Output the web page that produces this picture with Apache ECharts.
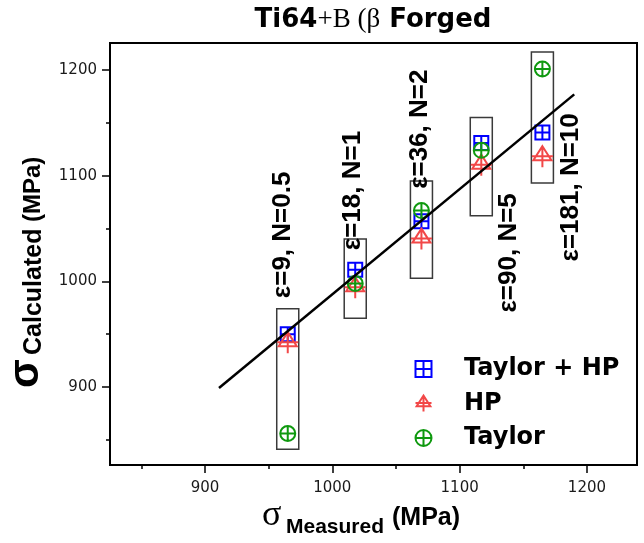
<!DOCTYPE html>
<html>
<head>
<meta charset="utf-8">
<script src="https://cdn.jsdelivr.net/npm/echarts@6/dist/echarts.min.js"></script>
<style>
  html, body { margin: 0; padding: 0; background: #fff; }
  #chart { width: 644px; height: 543px; }
</style>
</head>
<body>
<div id="chart"></div>
<script>
// Measured yield strength of each forging condition (MPa)
const measured = [965, 1018, 1070, 1117, 1165];
// Calculated strength from each model (MPa)
const taylorHP = [950, 1011, 1057, 1131, 1141];
const hallPetch = [942, 994, 1040, 1110, 1118];
const taylor = [856, 998, 1067, 1124, 1201];
// Bracket around each condition: lower / upper calculated bound (MPa)
const boxLow = [841, 965, 1003, 1062, 1093];
const boxHigh = [974, 1040, 1095, 1155, 1217];
// Condition notes (strain, number of passes), anchored in data units
const conditionNotes = ['ε=9, N=0.5', 'ε=18, N=1', 'ε=36, N=2', 'ε=90, N=5', 'ε=181, N=10'];
const noteMeasured = [961, 1016, 1069, 1139, 1187];
const noteCalculated = [1044, 1086, 1144, 1027, 1089];
// Trend line end points
const trendMeasured = [911, 1190];
const trendCalculated = [899, 1177];
// Axis ticks
const majorTicks = [900, 1000, 1100, 1200];
const minorTicks = [850, 950, 1050, 1150];

const BOX_HALF = 8.65;
const SANS = 'Liberation Sans';
const WIDE = 'DejaVu Sans';
const SERIF = 'Liberation Serif';

const SYM_SQUARE = 'path://M0,0L10,0L10,10L0,10Z M5,0L5,10 M0,5L10,5';
const SYM_TRI = 'path://M10.5,0L19.5,14L1.5,14Z M0,10L21,10 M10.5,0L10.5,21';
const SYM_CIRCLE = 'path://M0,5A5,5,0,1,1,10,5A5,5,0,1,1,0,5Z M5,0L5,10 M0,5L10,5';

const BLUE = '#0000ff';
const RED = '#f24848';
const GREEN = '#0f990f';

const pairs = (xs, ys) => xs.map((x, i) => [x, ys[i]]);
const plain = (v) => String(v);

function axisCommon(min, max) {
  return {
    type: 'value', min: min, max: max,
    splitLine: { show: false }
  };
}

function titleText(x, y, text, font, rotation) {
  return {
    type: 'text', x: x, y: y, rotation: rotation || 0, silent: true,
    style: {
      text: text, font: font, fill: '#000',
      align: 'left', verticalAlign: 'middle',
      textAlign: 'left', textVerticalAlign: 'middle'
    }
  };
}

const chart = echarts.init(document.getElementById('chart'), null, { renderer: 'canvas' });

chart.setOption({
  animation: false,
  backgroundColor: '#fff',
  grid: {
    left: 110, right: 7, top: 43, bottom: 78,
    show: true, borderColor: '#000', borderWidth: 2
  },
  xAxis: [
    Object.assign(axisCommon(825.4, 1239.3), {
      position: 'bottom',
      axisLine: { lineStyle: { color: '#000', width: 2 } },
      axisTick: { customValues: majorTicks, length: 8, lineStyle: { color: '#000', width: 1.5 } },
      axisLabel: { customValues: majorTicks, formatter: plain, margin: 16, fontFamily: WIDE, fontSize: 15, color: '#1a1a1a' }
    }),
    Object.assign(axisCommon(825.4, 1239.3), {
      position: 'bottom',
      axisLine: { show: false },
      axisTick: { customValues: minorTicks, length: 4, lineStyle: { color: '#000', width: 1.5 } },
      axisLabel: { show: false }
    })
  ],
  yAxis: [
    Object.assign(axisCommon(826.2, 1225.6), {
      position: 'left',
      axisLine: { show: true, lineStyle: { color: '#000', width: 2 } },
      axisTick: { show: true, customValues: majorTicks, length: 8, lineStyle: { color: '#000', width: 1.5 } },
      axisLabel: { customValues: majorTicks, formatter: plain, margin: 13, fontFamily: WIDE, fontSize: 15, color: '#1a1a1a' }
    }),
    Object.assign(axisCommon(826.2, 1225.6), {
      position: 'left',
      axisLine: { show: false },
      axisTick: { show: true, customValues: minorTicks, length: 4, lineStyle: { color: '#000', width: 1.5 } },
      axisLabel: { show: false }
    })
  ],
  legend: {
    orient: 'vertical',
    left: 413, top: 357,
    padding: 0,
    itemWidth: 17, itemHeight: 16, itemGap: 10.5,
    data: ['Taylor + HP', 'HP', 'Taylor'],
    textStyle: { fontFamily: WIDE, fontWeight: 'bold', fontSize: 24, color: '#000', padding: [0, 0, 0, 27] }
  },
  graphic: [
    {
      type: 'text', x: 373, y: 20, silent: true,
      style: {
        text: '{a|Ti64}{b|+B (β}{a| Forged}',
        textAlign: 'center', align: 'center',
        textVerticalAlign: 'middle', verticalAlign: 'middle',
        rich: {
          a: { fontFamily: WIDE, fontWeight: 'bold', fontSize: 26, fill: '#000', color: '#000' },
          b: { fontFamily: SERIF, fontSize: 27, fill: '#000', color: '#000' }
        }
      }
    },
    // y axis title, reading upward
    titleText(26, 388, 'σ', 'bold 42px "Liberation Sans"', Math.PI / 2),
    titleText(34, 355, 'Calculated', 'bold 25px "Liberation Sans"', Math.PI / 2),
    titleText(33, 222, '(MPa)', 'bold 24px "Liberation Sans"', Math.PI / 2),
    // x axis title
    titleText(262, 516, 'σ', '36px "Liberation Serif"'),
    titleText(286, 527, 'Measured', 'bold 21px "Liberation Sans"'),
    titleText(392, 518, '(MPa)', 'bold 25px "Liberation Sans"')
  ],
  series: [
    {
      name: 'brackets',
      type: 'custom',
      silent: true,
      z: 1,
      data: measured.map((x, i) => [x, boxLow[i], boxHigh[i]]),
      encode: { x: 0, y: [1, 2] },
      renderItem: function (params, api) {
        const p0 = api.coord([api.value(0) - BOX_HALF, api.value(2)]);
        const p1 = api.coord([api.value(0) + BOX_HALF, api.value(1)]);
        return {
          type: 'rect',
          shape: { x: p0[0], y: p0[1], width: p1[0] - p0[0], height: p1[1] - p0[1] },
          style: { fill: 'none', stroke: '#3a3a3a', lineWidth: 1.5 }
        };
      }
    },
    {
      name: 'Taylor + HP',
      type: 'scatter',
      z: 3,
      symbol: SYM_SQUARE,
      symbolSize: 14,
      itemStyle: { color: 'none', borderColor: BLUE, borderWidth: 2, opacity: 1 },
      data: pairs(measured, taylorHP)
    },
    {
      name: 'HP',
      type: 'scatter',
      z: 3,
      symbol: SYM_TRI,
      symbolSize: 21,
      itemStyle: { color: 'none', borderColor: RED, borderWidth: 2, opacity: 1 },
      data: pairs(measured, hallPetch)
    },
    {
      name: 'Taylor',
      type: 'scatter',
      z: 3,
      symbol: SYM_CIRCLE,
      symbolSize: 15,
      itemStyle: { color: 'none', borderColor: GREEN, borderWidth: 2, opacity: 1 },
      data: pairs(measured, taylor)
    },
    {
      name: 'trend',
      type: 'line',
      z: 5,
      silent: true,
      symbol: 'none',
      lineStyle: { color: '#000', width: 2.5 },
      data: pairs(trendMeasured, trendCalculated)
    },
    {
      name: 'notes',
      type: 'scatter',
      z: 6,
      silent: true,
      symbolSize: 1,
      itemStyle: { color: 'transparent', opacity: 1 },
      data: pairs(noteMeasured, noteCalculated),
      label: {
        show: true,
        position: 'inside',
        rotate: 90,
        align: 'center',
        verticalAlign: 'middle',
        fontFamily: SANS,
        fontWeight: 'bold',
        fontSize: 26,
        color: '#000',
        opacity: 1,
        formatter: (p) => conditionNotes[p.dataIndex]
      }
    }
  ]
});
</script>
</body>
</html>
